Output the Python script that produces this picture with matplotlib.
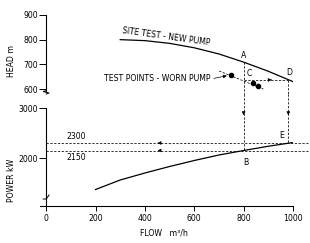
import matplotlib.pyplot as plt
import numpy as np

# new pump site test (head)
flow_new = [300, 400, 500, 600, 700, 800, 900, 1000]
head_new = [800, 796, 785, 767, 742, 709, 672, 630]

# worn pump test points
flow_worn = [750, 839, 859]
head_worn = [657, 625, 612]
worn_line_flow = [701, 880]
worn_line_head = [673, 600]

# power curve
flow_pow = [200, 300, 400, 500, 600, 700, 800, 900, 1000]
power = [1370, 1560, 1700, 1830, 1950, 2060, 2150, 2235, 2310]

# key points
flow_A, head_A = 800, 709
flow_D, head_CD = 981, 637
power_B, power_E = 2150, 2300

x_ticks = [0, 200, 400, 600, 800, 1000]
head_ticks = [600, 700, 800, 900]
power_ticks = [2000, 3000]

FS = 5.6
plt.rcParams['font.family'] = 'DejaVu Sans'
plt.rcParams['font.size'] = FS

fig = plt.figure(figsize=(3.1, 2.43), dpi=100)
ax_h = fig.add_axes([40 / 310, 1 - 94 / 243, 253 / 310, 84 / 243])
ax_p = fig.add_axes([40 / 310, 1 - 206 / 243, 253 / 310, 112 / 243])

for ax in (ax_h, ax_p):
    ax.set_xlim(-25, 1000)
    ax.spines['top'].set_visible(False)
    ax.spines['right'].set_visible(False)
    ax.spines['left'].set_position(('data', 0))
    ax.spines['left'].set_linewidth(0.8)
    ax.patch.set_alpha(0)
    ax.tick_params(axis='y', direction='out', length=5, width=0.7, pad=1, labelsize=FS)

ax_h.set_ylim(580, 920)
ax_p.set_ylim(1040, 3280)

# head axis
ax_h.spines['bottom'].set_visible(False)
ax_h.set_xticks([])
ax_h.set_yticks(head_ticks)
ax_h.spines['left'].set_bounds(594, 900)
ax_h.plot([0, -12, 12, 0], [594, 590, 584, 580], color='k', lw=0.7, clip_on=False)

# power axis
ax_p.set_yticks(power_ticks)
ax_p.spines['left'].set_bounds(1040, 3000)
ax_p.spines['bottom'].set_bounds(-25, 1000)
ax_p.spines['bottom'].set_linewidth(0.8)
ax_p.set_xticks(x_ticks)
ax_p.tick_params(axis='x', direction='out', length=3.5, width=0.7, pad=2, labelsize=FS)
ax_p.plot([-12, 0, 0, 12], [1180, 1180, 1180, 1260], color='k', lw=0.7, clip_on=False)

dash = dict(color='k', lw=0.55, ls=(0, (3, 2)))
arr = dict(arrowstyle='-|>', lw=0.5, color='k', mutation_scale=5)

# head curves
ax_h.plot(flow_new, head_new, color='k', lw=0.9)
ax_h.text(486, 814, 'SITE TEST - NEW PUMP', rotation=-8, ha='center', va='center')
ax_h.plot(worn_line_flow, worn_line_head, **dash)
ax_h.plot(flow_worn, head_worn, 'o', color='k', ms=3)
ax_h.text(665, 641, 'TEST POINTS - WORN PUMP', ha='right', va='center')
ax_h.annotate('', xy=(743, 656), xytext=(668, 641), arrowprops=arr)

# verticals / horizontals
ax_h.plot([flow_A, flow_A], [head_A, 580], clip_on=False, **dash)
ax_h.plot([flow_D, flow_D], [head_CD, 580], clip_on=False, **dash)
ax_h.plot([flow_A, flow_D], [head_CD, head_CD], **dash)
ax_h.annotate('', xy=(925, head_CD), xytext=(900, head_CD), arrowprops=arr)

ax_p.plot([flow_A, flow_A], [3280, power_B], clip_on=False, **dash)
ax_p.plot([flow_D, flow_D], [3280, power_E], clip_on=False, **dash)
for fx in (flow_A, flow_D):
    ax_p.annotate('', xy=(fx, 2800), xytext=(fx, 2950), arrowprops=arr)

ax_p.plot([0, 1065], [power_E, power_E], clip_on=False, **dash)
ax_p.plot([0, 1065], [power_B, power_B], clip_on=False, **dash)
for pv in (power_E, power_B):
    ax_p.annotate('', xy=(440, pv), xytext=(470, pv), arrowprops=arr)
ax_p.text(120, power_E + 40, '2300', ha='center', va='bottom')
ax_p.text(120, power_B - 40, '2150', ha='center', va='top')

ax_p.plot(flow_pow, power, color='k', lw=0.9)

# point labels
ax_h.text(flow_A, head_A + 10, 'A', ha='center', va='bottom')
ax_h.text(flow_A + 12, head_CD + 6, 'C', ha='left', va='bottom')
ax_h.text(flow_D + 2, head_CD + 10, 'D', ha='center', va='bottom')
ax_p.text(flow_D - 25, power_E + 60, 'E', ha='center', va='bottom')
ax_p.text(flow_A + 8, power_B - 150, 'B', ha='center', va='top')

fig.text(12 / 310, 1 - 61 / 243, 'HEAD m', rotation=90, ha='center', va='center')
fig.text(12 / 310, 1 - 180 / 243, 'POWER kW', rotation=90, ha='center', va='center')
fig.text(140 / 310, 1 - 233 / 243, 'FLOW   m³/h', ha='left', va='center')

fig.savefig('out.png', dpi=100)
